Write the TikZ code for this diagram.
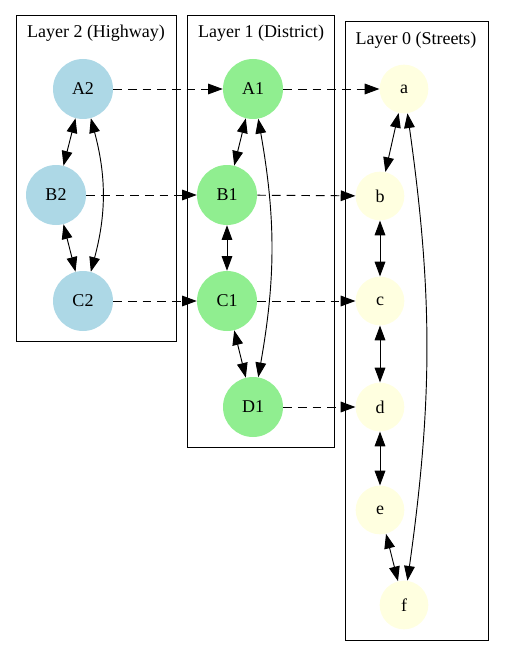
\documentclass[tikz,border=0pt]{standalone}
\usepackage{fontspec}
\setmainfont{Liberation Serif}
\usetikzlibrary{arrows.meta}

\definecolor{hwblue}{RGB}{173,216,230}
\definecolor{dsgreen}{RGB}{144,238,144}
\definecolor{stryellow}{RGB}{255,255,224}

\tikzset{
  hw/.style={circle,fill=hwblue,minimum size=45pt,inner sep=0pt},
  ds/.style={circle,fill=dsgreen,minimum size=45pt,inner sep=0pt},
  st/.style={circle,fill=stryellow,minimum size=36.5pt,inner sep=0pt},
  clusterbox/.style={draw,line width=.75pt},
  link/.style={<->,line width=.7pt},
  down/.style={->,line width=.7pt,dash pattern=on 6.5pt off 4.5pt}
}

\begin{document}
\begin{tikzpicture}[x=.75pt,y=-.75pt,font=\fontsize{13.5}{16}\selectfont,>={Triangle[length=11pt,width=8pt]}]
\useasboundingbox (0,0) rectangle (504,656);
% clusters
\draw [clusterbox] (16,16) rectangle (176,341);
\draw [clusterbox] (187,16) rectangle (334,447);
\draw [clusterbox] (345,22) rectangle (488,640);
\node (L2) at (96,33)  {Layer 2 (Highway)};
\node (L1) at (261,33) {Layer 1 (District)};
\node (L0) at (416,40) {Layer 0 (Streets)};
% layer 2
\node [hw] (A2) at (83,89)  {A2};
\node [hw] (B2) at (56,195) {B2};
\node [hw] (C2) at (83,301) {C2};
% layer 1
\node [ds] (A1) at (253,89)  {A1};
\node [ds] (B1) at (227,195) {B1};
\node [ds] (C1) at (227,301) {C1};
\node [ds] (D1) at (253,407) {D1};
% layer 0
\node [st] (a) at (404,89)  {a};
\node [st] (b) at (380,196) {b};
\node [st] (c) at (380,301) {c};
\node [st] (d) at (380,407) {d};
\node [st] (e) at (380,510) {e};
\node [st] (f) at (404,605) {f};
% roads inside a layer
\draw [link] (A2) -- (B2);
\draw [link] (B2) -- (C2);
\draw [link] (A2) to[bend left=15] (C2);
\draw [link] (A1) -- (B1);
\draw [link] (B1) -- (C1);
\draw [link] (C1) -- (D1);
\draw [link] (A1) to[bend left=10] (D1);
\foreach \u/\v in {a/b,b/c,c/d,d/e,e/f}
  \draw [link] (\u) -- (\v);
\draw [link] (a) to[bend left=8] (f);
% links down to the next layer
\foreach \u/\v in {A2/A1,B2/B1,C2/C1,A1/a,B1/b,C1/c,D1/d}
  \draw [down] (\u) -- (\v);
\end{tikzpicture}
\end{document}
